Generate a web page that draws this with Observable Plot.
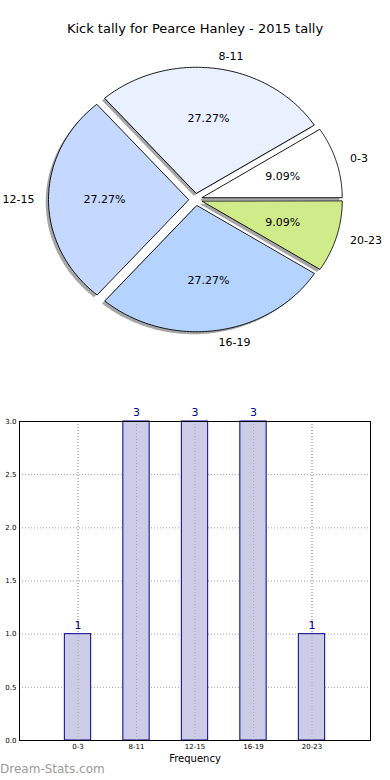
<!DOCTYPE html>
<html>
<head>
<meta charset="utf-8">
<script src="https://cdn.jsdelivr.net/npm/d3@7"></script>
<script src="https://cdn.jsdelivr.net/npm/@observablehq/plot@0.6"></script>
<style>
  html, body { margin: 0; padding: 0; background: #fff; }
  body { width: 390px; height: 780px; position: relative; overflow: hidden; font-family: "DejaVu Sans", sans-serif; }
  #title { position: absolute; top: 21px; left: 0; width: 390px; text-align: center; font-size: 13px; color: #000; }
  #pie { position: absolute; top: 40px; left: 0; }
  #bar { position: absolute; top: 400px; left: 0; }
  #wm { position: absolute; top: 762px; left: 0; font-size: 12px; color: #9a9a9a; font-family: "DejaVu Sans", sans-serif; }
</style>
</head>
<body>
<div id="title">Kick tally for Pearce Hanley - 2015 tally</div>
<div id="pie"></div>
<div id="bar"></div>
<div id="wm">Dream-Stats.com</div>
<script>
const categories = ["0-3", "8-11", "12-15", "16-19", "20-23"];
const counts = [1, 3, 3, 3, 1];
const sliceColors = ["#ffffff", "#e9f0ff", "#c5d8ff", "#b4d4ff", "#d0eb8a"];
const yTicks = [0, 0.5, 1.0, 1.5, 2.0, 2.5, 3.0];
const xTicks = [0, 1, 2, 3, 4];

// ---------- Pie ----------
const total = d3.sum(counts);
const explode = 0.05;
let cum = 0;
const slices = counts.map((c, i) => {
  const t1 = cum / total * 2 * Math.PI;
  cum += c;
  const t2 = cum / total * 2 * Math.PI;
  const mid = (t1 + t2) / 2;
  const cx = explode * Math.cos(mid), cy = explode * Math.sin(mid);
  const pts = [{x: cx, y: cy}];
  const n = 80;
  for (let k = 0; k <= n; k++) {
    const t = t1 + (t2 - t1) * k / n;
    pts.push({x: cx + Math.cos(t), y: cy + Math.sin(t)});
  }
  return {
    name: categories[i], color: sliceColors[i], pts, mid, cx, cy,
    pct: (c / total * 100).toFixed(2) + "%"
  };
});

const pieMarks = [];
// shadows first
for (const s of slices) {
  pieMarks.push(Plot.line(s.pts, {
    x: d => d.x - 0.02, y: d => d.y - 0.02, curve: "linear-closed",
    fill: "#4d4d4d", fillOpacity: 0.5, stroke: "none"
  }));
}
for (const s of slices) {
  pieMarks.push(Plot.line(s.pts, {
    x: "x", y: "y", curve: "linear-closed",
    fill: s.color, stroke: "#000", strokeWidth: 0.9
  }));
}
const outerLabels = slices.map(s => ({
  x: s.cx + 1.1 * Math.cos(s.mid), y: s.cy + 1.1 * Math.sin(s.mid), text: s.name
}));
const pctLabels = slices.map(s => ({
  x: s.cx + 0.6 * Math.cos(s.mid), y: s.cy + 0.6 * Math.sin(s.mid), text: s.pct
}));
pieMarks.push(Plot.text(outerLabels.filter(d => d.x > 0), {x: "x", y: "y", text: "text", textAnchor: "start", fontSize: 11, fill: "#000"}));
pieMarks.push(Plot.text(outerLabels.filter(d => d.x <= 0), {x: "x", y: "y", text: "text", textAnchor: "end", fontSize: 11, fill: "#000"}));
pieMarks.push(Plot.text(pctLabels, {x: "x", y: "y", text: "text", fontSize: 11, fill: "#000"}));

const pie = Plot.plot({
  width: 390, height: 330,
  style: {fontFamily: "DejaVu Sans", background: "transparent", overflow: "visible"},
  x: {domain: [-1, 1], range: [55, 335], axis: null},
  y: {domain: [-1, 1], range: [285, 33], axis: null},
  marks: pieMarks
});
document.getElementById("pie").appendChild(pie);

// ---------- Bar ----------
const barData = categories.map((c, i) => ({i, cat: c, count: counts[i]}));
const bar = Plot.plot({
  width: 390, height: 380,
  marginLeft: 19, marginRight: 20, marginTop: 21, marginBottom: 40,
  style: {fontFamily: "DejaVu Sans", background: "transparent", overflow: "visible"},
  x: {domain: [-1, 5]},
  y: {domain: [0, 3]},
  marks: [
    Plot.gridX(xTicks, {stroke: "#a0a0a0", strokeOpacity: 1, strokeDasharray: "1,2"}),
    Plot.gridY(yTicks, {stroke: "#a0a0a0", strokeOpacity: 1, strokeDasharray: "1,2"}),
    Plot.rect(barData, {x1: d => d.i - 0.225, x2: d => d.i + 0.225, y1: 0, y2: "count", fill: "#ccccE6", stroke: "#00008b", strokeWidth: 1}),
    Plot.gridX(xTicks, {stroke: "#a0a0a0", strokeOpacity: 0.8, strokeDasharray: "1,2"}),
    Plot.text(barData, {x: "i", y: "count", text: d => String(d.count), dy: -9, fontSize: 11, fill: "#00008b"}),
    Plot.frame({stroke: "#000", strokeWidth: 1}),
    Plot.axisY({ticks: yTicks, tickFormat: d3.format(".1f"), tickSize: 0, tickPadding: 3, fontSize: 7, label: null}),
    Plot.axisX({ticks: xTicks, tickFormat: i => categories[i], tickSize: 0, tickPadding: 4, fontSize: 7, label: null}),
    Plot.text(["Frequency"], {frameAnchor: "bottom", dy: 21, fontSize: 10, fill: "#000"})
  ]
});
document.getElementById("bar").appendChild(bar);
</script>
</body>
</html>
